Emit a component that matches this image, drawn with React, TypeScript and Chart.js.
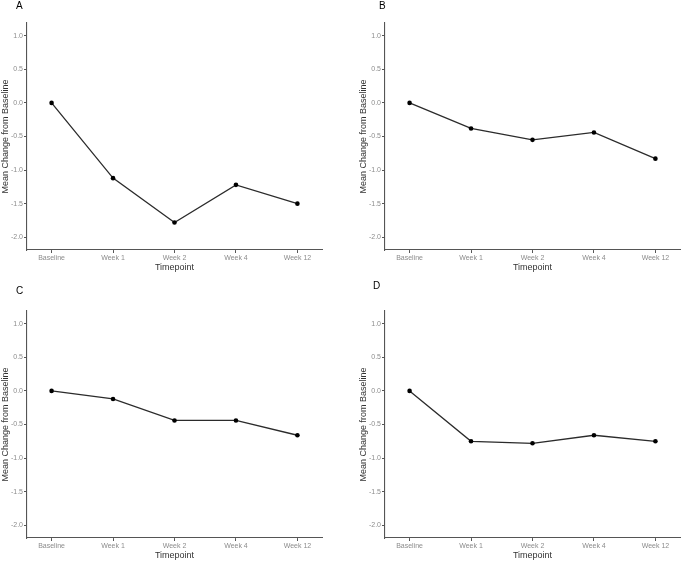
import React, { useEffect, useRef } from "react";
import { Chart, registerables } from "chart.js";

Chart.register(...registerables);

const categories = ["Baseline", "Week 1", "Week 2", "Week 4", "Week 12"];
const seriesA = [0, -1.12, -1.78, -1.22, -1.5];
const seriesB = [0, -0.38, -0.55, -0.44, -0.83];
const seriesC = [0, -0.12, -0.44, -0.44, -0.66];
const seriesD = [0, -0.75, -0.78, -0.66, -0.75];
const yTicks = [-2.0, -1.5, -1.0, -0.5, 0.0, 0.5, 1.0];
const panelLabels = ["A", "B", "C", "D"];
const yTitle = "Mean Change from Baseline";
const xTitle = "Timepoint";

const FONT = "'Liberation Sans', Arial, sans-serif";

function Panel({ values }: { values: number[] }) {
  const ref = useRef<HTMLCanvasElement | null>(null);
  useEffect(() => {
    if (!ref.current) return;
    const chart = new Chart(ref.current, {
      type: "line",
      data: {
        datasets: [
          {
            data: values.map((v, i) => ({ x: i, y: v })),
            borderColor: "#2b2b2b",
            borderWidth: 1.3,
            pointRadius: 2.3,
            pointBackgroundColor: "#000000",
            pointBorderColor: "#000000",
            pointBorderWidth: 0,
            tension: 0,
          },
        ],
      },
      options: {
        responsive: false,
        animation: false,
        layout: { padding: { top: 23, right: 5, left: 0, bottom: 0 } },
        plugins: { legend: { display: false }, tooltip: { enabled: false }, title: { display: false } },
        scales: {
          x: {
            type: "linear",
            min: -0.4,
            max: 4.4,
            afterBuildTicks: (scale: any) => {
              scale.ticks = categories.map((_, i) => ({ value: i }));
            },
            afterFit: (scale: any) => {
              scale.height = 23;
            },
            ticks: {
              callback: (v: any) => categories[Number(v)] ?? "",
              color: "#8c8c8c",
              font: { family: FONT, size: 7 },
              padding: 1,
              maxRotation: 0,
              autoSkip: false,
            },
            grid: { drawOnChartArea: false, drawTicks: true, tickLength: 3, color: "#555555" },
            border: { display: true, color: "#555555", width: 1.1 },
            title: {
              display: true,
              text: xTitle,
              color: "#333333",
              font: { family: FONT, size: 9 },
              padding: { top: 0, bottom: 0 },
            },
          },
          y: {
            type: "linear",
            min: -2.19,
            max: 1.19,
            afterBuildTicks: (scale: any) => {
              scale.ticks = yTicks.map((v) => ({ value: v }));
            },
            afterFit: (scale: any) => {
              scale.width = 27;
            },
            ticks: {
              callback: (v: any) => Number(v).toFixed(1),
              color: "#8c8c8c",
              font: { family: FONT, size: 7 },
              padding: 1,
            },
            grid: { drawOnChartArea: false, drawTicks: true, tickLength: 3, color: "#555555" },
            border: { display: true, color: "#555555", width: 1.1 },
            title: {
              display: true,
              text: yTitle,
              color: "#333333",
              font: { family: FONT, size: 9 },
              padding: { top: 0, bottom: 0 },
            },
          },
        },
      },
    } as any);
    return () => chart.destroy();
  }, [values]);
  return <canvas ref={ref} width={327} height={273} style={{ width: 327, height: 273, display: "block" }} />;
}

export default function App() {
  useEffect(() => {
    document.body.style.margin = "0";
  }, []);
  const panels = [
    { values: seriesA, left: 0, top: 0, labelLeft: 16, labelTop: 1 },
    { values: seriesB, left: 358, top: 0, labelLeft: 379, labelTop: 1 },
    { values: seriesC, left: 0, top: 288, labelLeft: 16, labelTop: 286 },
    { values: seriesD, left: 358, top: 288, labelLeft: 373, labelTop: 281 },
  ];
  return (
    <div style={{ position: "relative", width: 685, height: 561, background: "#fff", overflow: "hidden" }}>
      {panels.map((p, i) => (
        <React.Fragment key={i}>
          <div style={{ position: "absolute", left: p.left, top: p.top }}>
            <Panel values={p.values} />
          </div>
          <div
            style={{
              position: "absolute",
              left: p.labelLeft,
              top: p.labelTop,
              fontFamily: FONT,
              fontSize: 10,
              lineHeight: "10px",
              color: "#000",
            }}
          >
            {panelLabels[i]}
          </div>
        </React.Fragment>
      ))}
    </div>
  );
}
